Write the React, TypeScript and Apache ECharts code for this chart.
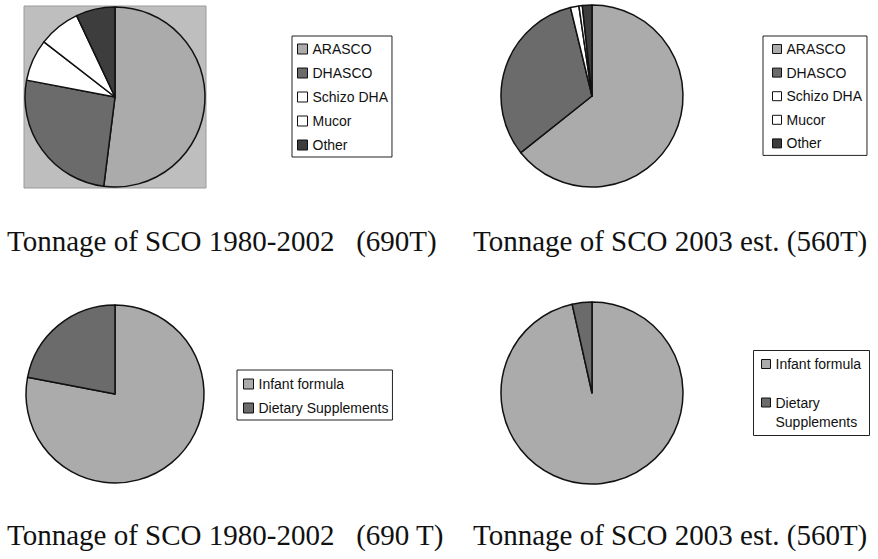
import React, { useEffect, useRef } from "react";
import * as echarts from "echarts";

const sourceNames = ["ARASCO", "DHASCO", "Schizo DHA", "Mucor", "Other"];
const tonnage1980to2002 = [52, 26, 7.5, 7.5, 7];
const tonnage2003 = [64.3, 31.9, 1.5, 0.6, 1.7];
const useNames = ["Infant formula", "Dietary Supplements"];
const use1980to2002 = [78, 22];
const use2003 = [96.5, 3.5];
const titles = [
  "Tonnage of SCO 1980-2002   (690T)",
  "Tonnage of SCO 2003 est. (560T)",
  "Tonnage of SCO 1980-2002   (690 T)",
  "Tonnage of SCO 2003 est. (560T)",
];

const sourceColors = ["#ababab", "#6b6b6b", "#ffffff", "#ffffff", "#3d3d3d"];
const useColors = ["#ababab", "#6b6b6b"];

const SANS = "Liberation Sans, Arial, sans-serif";
const SERIF = "Liberation Serif, Times New Roman, serif";

function pieData(names: string[], values: number[], colors: string[]) {
  return names.map((n, i) => ({ name: n, value: values[i], itemStyle: { color: colors[i] } }));
}

export default function App() {
  const ref = useRef<HTMLDivElement>(null);
  useEffect(() => {
    if (!ref.current) return;
    const chart = echarts.init(ref.current, null, { renderer: "svg" });
    const pieBase = {
      type: "pie",
      startAngle: 90,
      clockwise: true,
      label: { show: false },
      labelLine: { show: false },
      emphasis: { disabled: true },
      silent: true,
      itemStyle: { borderColor: "#111", borderWidth: 1.5 },
    };
    const legendBase = {
      orient: "vertical",
      icon: "rect",
      itemWidth: 10,
      itemHeight: 10,
      borderColor: "#222",
      borderWidth: 1,
      backgroundColor: "#fff",
      itemStyle: { borderColor: "#111", borderWidth: 1 },
      textStyle: { fontFamily: SANS, fontSize: 14, color: "#111", lineHeight: 14 },
      selectedMode: false,
    };
    const titleBase = {
      padding: 0,
      textStyle: { fontFamily: SERIF, fontSize: 29, fontWeight: "normal", color: "#111", lineHeight: 28 },
    };
    chart.setOption({
      animation: false,
      backgroundColor: "#fff",
      title: [
        { ...titleBase, text: titles[0], left: 7, top: 227 },
        { ...titleBase, text: titles[1], left: 473, top: 227 },
        { ...titleBase, text: titles[2], left: 7, top: 521 },
        { ...titleBase, text: titles[3], left: 473, top: 521 },
      ],
      graphic: [
        {
          type: "rect",
          z: -1,
          shape: { x: 24, y: 6, width: 182, height: 182 },
          style: { fill: "#bebebe", stroke: "#9a9a9a", lineWidth: 1 },
          silent: true,
        },
        {
          type: "rect",
          z: -1,
          shape: { x: 753.5, y: 350.5, width: 116, height: 85 },
          style: { fill: "#fff", stroke: "#222", lineWidth: 1 },
          silent: true,
        },
      ],
      legend: [
        {
          ...legendBase,
          data: sourceNames,
          left: 292,
          top: 36,
          padding: [6, 4, 5, 5],
          itemGap: 10,
          itemTextGap: 2,
        },
        {
          ...legendBase,
          data: sourceNames,
          left: 763,
          top: 36,
          padding: [6, 5, 5, 9],
          itemGap: 9.6,
          itemTextGap: 8,
          itemWidth: 9,
          itemHeight: 9,
        },
        {
          ...legendBase,
          data: useNames,
          left: 237,
          top: 370,
          padding: [7, 4, 5, 6],
          itemGap: 10,
          itemTextGap: 2,
        },
        {
          ...legendBase,
          borderWidth: 0,
          backgroundColor: "transparent",
          data: [useNames[0]],
          left: 761,
          top: 357,
          padding: 0,
          itemTextGap: 7,
          itemWidth: 9,
          itemHeight: 9,
        },
        {
          ...legendBase,
          borderWidth: 0,
          backgroundColor: "transparent",
          textStyle: { ...legendBase.textStyle, lineHeight: 19 },
          data: [useNames[1]],
          formatter: (n: string) => "\u00a0\n" + n.replace(" ", "\n"),
          left: 761,
          top: 374,
          padding: 0,
          itemTextGap: 7,
          itemWidth: 9,
          itemHeight: 9,
        },
      ],
      series: [
        { ...pieBase, center: [115, 97], radius: 90, data: pieData(sourceNames, tonnage1980to2002, sourceColors) },
        { ...pieBase, center: [592, 96], radius: 91, data: pieData(sourceNames, tonnage2003, sourceColors) },
        { ...pieBase, center: [115, 394], radius: 89, data: pieData(useNames, use1980to2002, useColors) },
        { ...pieBase, center: [592, 393], radius: 91, data: pieData(useNames, use2003, useColors) },
      ],
    });
    return () => chart.dispose();
  }, []);
  return (
    <div
      ref={ref}
      style={{ position: "fixed", left: 0, top: 0, width: 878, height: 559 }}
    />
  );
}
